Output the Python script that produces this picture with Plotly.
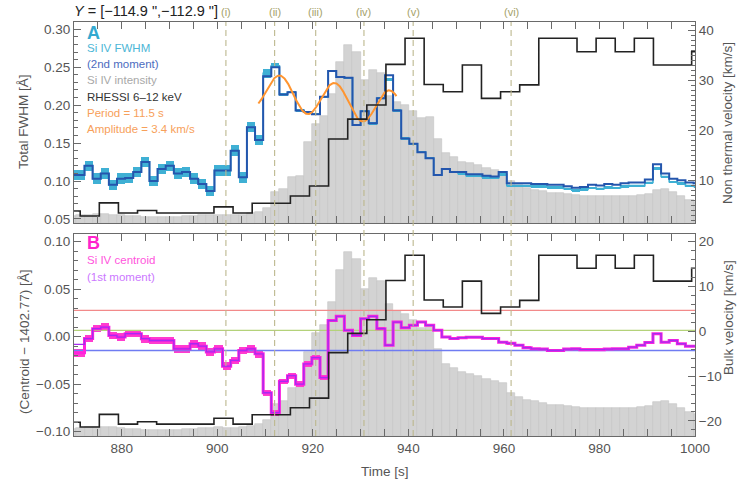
import math
import plotly.graph_objects as go

# ---------------- data ----------------
CADENCE = 1.7          # IRIS Si IV cadence [s]
T0 = 868.8             # start of first Si IV bin [s]
RH_BIN = 4.0           # RHESSI bin width [s]
RH_T0 = 867.3          # start of first RHESSI bin [s]

fwhm = [0.108, 0.108, 0.120, 0.103, 0.110, 0.095, 0.103, 0.104, 0.112, 0.125,
        0.100, 0.116, 0.120, 0.110, 0.112, 0.103, 0.096, 0.087, 0.114, 0.114,
        0.140, 0.105, 0.171, 0.154, 0.242, 0.252, 0.214, 0.217, 0.193, 0.191,
        0.188, 0.211, 0.245, 0.237, 0.236, 0.174, 0.192, 0.176, 0.209, 0.234,
        0.193, 0.156, 0.149, 0.138, 0.130, 0.108, 0.116, 0.112, 0.110, 0.107,
        0.107, 0.105, 0.104, 0.109, 0.094, 0.094, 0.094, 0.093, 0.093, 0.092,
        0.092, 0.090, 0.088, 0.089, 0.091, 0.090, 0.092, 0.091, 0.093, 0.094,
        0.094, 0.098, 0.117, 0.106, 0.099, 0.097, 0.094, 0.093]
fwhm_err = [0.007] * 24 + [0.006, 0.003] + [0.0015] * 22 + [0.0012] * 30
moment2 = [0.108, 0.108, 0.120, 0.103, 0.110, 0.095, 0.103, 0.104, 0.112, 0.125,
           0.100, 0.116, 0.120, 0.110, 0.112, 0.103, 0.096, 0.087, 0.114, 0.114,
           0.140, 0.105, 0.171, 0.154, 0.238, 0.250, 0.214, 0.217, 0.193, 0.191,
           0.188, 0.211, 0.245, 0.237, 0.236, 0.174, 0.192, 0.176, 0.209, 0.2395,
           0.193, 0.156, 0.149, 0.138, 0.130, 0.108, 0.116, 0.112, 0.112, 0.109,
           0.109, 0.107, 0.106, 0.112, 0.097, 0.097, 0.097, 0.096, 0.096, 0.095,
           0.095, 0.093, 0.091, 0.092, 0.095, 0.094, 0.096, 0.095, 0.097, 0.098,
           0.098, 0.102, 0.122, 0.110, 0.103, 0.101, 0.098, 0.097]
intensity = [3.8, 4.3, 4.7, 5.1, 5.1, 4.7, 4.3, 3.8, 3.8, 3.4,
             3.4, 3.4, 3.4, 3.4, 3.8, 3.8, 4.3, 4.3, 4.7, 4.3,
             4.3, 4.7, 5.6, 6.4, 8.5, 17.5, 19.2, 25.9, 26.5, 45.7,
             56.0, 60.3, 72.9, 90.6, 100.0, 96.2, 80.3, 85.9, 84.2, 71.8,
             67.9, 66.7, 63.2, 59.0, 59.8, 47.4, 39.3, 37.2, 34.6, 33.8,
             32.9, 31.2, 29.9, 28.6, 23.5, 21.4, 19.7, 18.8, 17.9, 17.1,
             16.7, 16.2, 15.8, 15.4, 15.0, 15.0, 15.4, 15.4, 15.4, 15.4,
             15.8, 16.2, 18.4, 19.2, 17.5, 15.0, 13.2, 12.0]
centroid = [-0.017, -0.017, -0.002, 0.0085, 0.010, 0.0014, -0.0004, 0.0032, 0.0032, -0.0021,
            -0.004, -0.004, -0.004, -0.0127, -0.0127, -0.0074, -0.010, -0.016, -0.0127, -0.031,
            -0.025, -0.0145, -0.0127, -0.018, -0.059, -0.080, -0.047, -0.041, -0.050, -0.0286,
            -0.022, -0.043, 0.017, 0.0215, 0.0067, 0.0014, 0.019, 0.0215, 0.0085, -0.009,
            0.0154, 0.0095, 0.012, 0.0154, 0.012, 0.0067, -0.0004, -0.002, -0.001, -0.0005,
            -0.0005, -0.002, -0.002, -0.0057, -0.007, -0.009, -0.0115, -0.0127, -0.013, -0.0145,
            -0.0145, -0.013, -0.0127, -0.0136, -0.0136, -0.0136, -0.013, -0.0127, -0.0127, -0.011,
            -0.009, -0.006, 0.0032, -0.0057, -0.004, -0.0074, -0.010, -0.010]
centroid_err = [0.004] * 24 + [0.003] * 8 + [0.0012] * 46
moment1 = [-0.008, -0.008, -0.002, 0.0085, 0.010, 0.0014, -0.0004, 0.0032, 0.0032, -0.0021,
           -0.004, -0.004, -0.004, -0.0127, -0.0127, -0.0074, -0.010, -0.016, -0.0127, -0.031,
           -0.025, -0.0145, -0.0127, -0.018, -0.059, -0.080, -0.047, -0.041, -0.050, -0.0286,
           -0.022, -0.043, 0.017, 0.0215, 0.0067, 0.0014, 0.019, 0.0215, 0.0085, -0.009,
           0.0154, 0.0095, 0.012, 0.0154, 0.012, 0.0067, -0.0004, -0.002, -0.001, -0.0005,
           -0.0005, -0.002, -0.002, -0.0057, -0.007, -0.009, -0.0115, -0.0127, -0.013, -0.0145,
           -0.0145, -0.013, -0.0127, -0.0136, -0.0136, -0.0136, -0.013, -0.0127, -0.0127, -0.011,
           -0.009, -0.006, 0.0032, -0.0057, -0.004, -0.0074, -0.010, -0.010]
rhessi = [0.060, 0.035, 0.100, 0.050, 0.062, 0.050, 0.050, 0.050, 0.080, 0.050,
          0.098, 0.098, 0.134, 0.184, 0.418, 0.517, 0.587, 0.789, 0.919, 0.689,
          0.653, 0.786, 0.620, 0.653, 0.687, 0.919, 0.919, 0.852, 0.919, 0.852,
          0.919, 0.786, 0.786, 0.852]

# sinusoidal fit (model parameters)
FIT_PERIOD = 11.5
FIT_AMP = 0.0229
FIT_MEAN = 0.206
FIT_SLOPE = -0.00085
FIT_TPEAK = 924.6
FIT_T = (908.6, 937.5)

event_times = [901.8, 912.0, 920.6, 930.7, 941.0, 961.5]
event_labels = ["(i)", "(ii)", "(iii)", "(iv)", "(v)", "(vi)"]
ref_lines = [0.0278, 0.0067, -0.0145]          # Å
ref_colors = ["#f28a8a", "#b4d27a", "#6f7cf2"]

# ---------------- helpers ----------------
n = len(fwhm)
t_start = [T0 + CADENCE * i for i in range(n)]
t_mid = [t + CADENCE / 2 for t in t_start]
t_step = t_start + [t_start[-1] + CADENCE]
rh_start = [RH_T0 + RH_BIN * k for k in range(len(rhessi))]
rh_step = rh_start + [rh_start[-1] + RH_BIN]


def step(v):
    return v + [v[-1]]


fit_t = [FIT_T[0] + (FIT_T[1] - FIT_T[0]) * j / 300 for j in range(301)]
fit_v = [FIT_MEAN + FIT_SLOPE * (t - 925.0)
         + FIT_AMP * math.cos(2 * math.pi * (t - FIT_TPEAK) / FIT_PERIOD) for t in fit_t]

FONT = "Liberation Sans"
fig = go.Figure()

# ---- panel A ----
fig.add_trace(go.Bar(x=t_mid, y=intensity, width=CADENCE, xaxis="x", yaxis="y",
                     marker=dict(color="#d3d3d3", line=dict(color="#c2c2c2", width=0.6))))
fig.add_trace(go.Bar(x=t_mid, y=[2 * e for e in fwhm_err],
                     base=[v - e for v, e in zip(fwhm, fwhm_err)], width=CADENCE,
                     xaxis="x", yaxis="y2", marker=dict(color="#3fb0d4", line=dict(width=0))))
fig.add_trace(go.Scatter(x=t_step, y=step(fwhm), mode="lines", line_shape="hv",
                         line=dict(color="#3fb0d4", width=1.6), xaxis="x", yaxis="y2"))
fig.add_trace(go.Scatter(x=t_step, y=step(moment2), mode="lines", line_shape="hv",
                         line=dict(color="#2456ad", width=2), xaxis="x", yaxis="y2"))
fig.add_trace(go.Scatter(x=fit_t, y=fit_v, mode="lines",
                         line=dict(color="#ff9530", width=2), xaxis="x", yaxis="y2"))
# invisible anchor so the right-hand velocity axis is drawn
fig.add_trace(go.Scatter(x=[880], y=[20], mode="markers", marker=dict(opacity=0),
                         hoverinfo="skip", xaxis="x", yaxis="y3"))
fig.add_trace(go.Scatter(x=rh_step, y=step(rhessi), mode="lines", line_shape="hv",
                         line=dict(color="#222222", width=1.6), xaxis="x", yaxis="y4"))

# ---- panel B ----
fig.add_trace(go.Bar(x=t_mid, y=intensity, width=CADENCE, xaxis="x2", yaxis="y5",
                     marker=dict(color="#d3d3d3", line=dict(color="#c2c2c2", width=0.6))))
for val, col in zip(ref_lines, ref_colors):
    fig.add_trace(go.Scatter(x=[870, 1000], y=[val, val], mode="lines",
                             line=dict(color=col, width=1.3), xaxis="x2", yaxis="y6"))
fig.add_trace(go.Bar(x=t_mid, y=[2 * e for e in centroid_err],
                     base=[v - e for v, e in zip(centroid, centroid_err)], width=CADENCE,
                     xaxis="x2", yaxis="y6", marker=dict(color="#ff3ccf", line=dict(width=0))))
fig.add_trace(go.Scatter(x=t_step, y=step(centroid), mode="lines", line_shape="hv",
                         line=dict(color="#ff22dd", width=3), xaxis="x2", yaxis="y6"))
fig.add_trace(go.Scatter(x=t_step, y=step(moment1), mode="lines", line_shape="hv",
                         line=dict(color="#a52bf0", width=1.3), xaxis="x2", yaxis="y6"))
fig.add_trace(go.Scatter(x=[880], y=[0], mode="markers", marker=dict(opacity=0),
                         hoverinfo="skip", xaxis="x2", yaxis="y7"))
fig.add_trace(go.Scatter(x=rh_step, y=step(rhessi), mode="lines", line_shape="hv",
                         line=dict(color="#222222", width=1.6), xaxis="x2", yaxis="y8"))

AX = "#6a6a6a"
TF = dict(family=FONT, size=13.5, color="#555555")
xcommon = dict(range=[870, 1000], tick0=880, dtick=20, ticks="inside", ticklen=7,
               tickcolor=AX, showline=True, linecolor=AX, linewidth=1.2, mirror="allticks",
               showgrid=False, zeroline=False,
               minor=dict(dtick=5, ticks="inside", ticklen=4, tickcolor=AX))
ycommon = dict(ticks="inside", ticklen=7, tickcolor=AX, showline=True, linecolor=AX,
               linewidth=1.2, showgrid=False, zeroline=False, tickfont=TF)
hidden = dict(visible=False, showgrid=False, zeroline=False)

TOP_A = [0.5145, 1.0]
BOT_B = [0.0, 0.4879]

fig.update_layout(
    width=740, height=490,
    margin=dict(l=74, r=45, t=22, b=54),
    paper_bgcolor="white", plot_bgcolor="white",
    showlegend=False, barmode="overlay", bargap=0,
    font=dict(family=FONT),
    xaxis=dict(xcommon, anchor="y", showticklabels=False),
    xaxis2=dict(xcommon, anchor="y5", showticklabels=True, tickfont=TF),
    yaxis=dict(hidden, domain=TOP_A, anchor="x", range=[0, 113.2]),
    yaxis2=dict(ycommon, overlaying="y", anchor="x", side="left",
                range=[0.0447, 0.3096], tick0=0.05, dtick=0.05, tickformat=".2f",
                minor=dict(dtick=0.01, ticks="inside", ticklen=4, tickcolor=AX)),
    yaxis3=dict(ycommon, overlaying="y", anchor="x", side="right",
                range=[1.4, 41.66], tick0=10, dtick=10,
                minor=dict(dtick=1, ticks="inside", ticklen=4, tickcolor=AX)),
    yaxis4=dict(hidden, overlaying="y", anchor="x", range=[0, 1]),
    yaxis5=dict(hidden, domain=BOT_B, anchor="x2", range=[0, 110]),
    yaxis6=dict(ycommon, overlaying="y5", anchor="x2", side="left",
                range=[-0.1045, 0.1081], tick0=0, dtick=0.05, tickformat=".2f",
                minor=dict(dtick=0.01, ticks="inside", ticklen=4, tickcolor=AX)),
    yaxis7=dict(ycommon, overlaying="y5", anchor="x2", side="right",
                range=[-23.36, 21.72], tick0=0, dtick=10,
                minor=dict(dtick=2, ticks="inside", ticklen=4, tickcolor=AX)),
    yaxis8=dict(hidden, overlaying="y5", anchor="x2", range=[-0.0111, 1.0284]),
)

# dashed event lines and labels
for t, lab in zip(event_times, event_labels):
    fig.add_shape(type="line", xref="x", yref="paper", x0=t, x1=t, y0=0, y1=1,
                  line=dict(color="#bcb88e", width=1.1, dash="6px,4px"), layer="above")
    fig.add_annotation(x=t, y=1.0242, xref="x", yref="paper", text=lab, showarrow=False,
                       font=dict(family=FONT, size=11, color="#a5a26a"),
                       xanchor="center", yanchor="middle")


def px_y(ypx):
    return (436 - ypx) / 414


def px_x(xpx):
    return (xpx - 74) / 621


def note(text, xpx, ypx, color, size=11.5, anchor="left", angle=0):
    fig.add_annotation(x=px_x(xpx), y=px_y(ypx), xref="paper", yref="paper", text=text,
                       showarrow=False, xanchor=anchor, yanchor="middle", textangle=angle,
                       font=dict(family=FONT, size=size, color=color))


note("<b>A</b>", 85, 33, "#33a9d0", size=18)
note("Si IV FWHM", 85, 48, "#4cb6d6")
note("(2nd moment)", 85, 64, "#4c6cc0")
note("Si IV intensity", 85, 80, "#a8a8a8")
note("RHESSI 6–12 keV", 85, 97, "#333333")
note("Period = 11.5 s", 85, 113, "#f7a05a")
note("Amplitude = 3.4 km/s", 85, 129, "#f7a05a")
note("<b>B</b>", 85, 243, "#ff22cc", size=18)
note("Si IV centroid", 85, 260, "#ff55dd")
note("(1st moment)", 85, 277, "#cc77ff")

note("<i>Y</i> = [−114.9 \",−112.9 \"]", 72, 11, "#222222", size=14.5)
note("Total FWHM [Å]", 24, 122, "#555555", size=13.5, anchor="center", angle=-90)
note("(Centroid − 1402.77) [Å]", 24, 342, "#555555", size=13.5, anchor="center", angle=-90)
note("Non thermal velocity [km/s]", 728, 123, "#555555", size=13.5, anchor="center", angle=-90)
note("Bulk velocity [km/s]", 728, 318, "#555555", size=13.5, anchor="center", angle=-90)
note("Time [s]", 385, 471, "#555555", size=13.5, anchor="center")

# remove the browser's default 8px page margin so the figure sits at the window's corner
fig.write_html("out.html", config={"displayModeBar": False},
               post_script="document.body.style.margin='0';")
